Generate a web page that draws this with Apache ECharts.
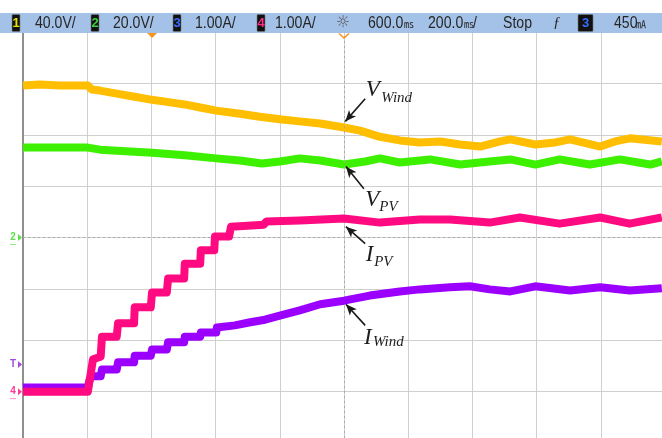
<!DOCTYPE html>
<html><head><meta charset="utf-8">
<script src="https://cdn.jsdelivr.net/npm/echarts@6/dist/echarts.min.js"></script>
<style>html,body{margin:0;padding:0;background:#fff}#c{width:662px;height:438px}</style>
</head><body><div id="c"></div>
<script>
// ---- data (x: time in divisions of 200 ms, y: screen divisions from centre) ----
const vWind = [[0,2.96],[0.26,2.98],[0.58,2.96],[1.01,2.96],[1.07,2.88],[1.20,2.86],[1.46,2.80],[1.74,2.74],[2.01,2.68],[2.29,2.63],[2.52,2.59],[2.76,2.53],[3.01,2.47],[3.38,2.41],[3.69,2.35],[4.00,2.30],[4.31,2.26],[4.63,2.22],[5.00,2.14],[5.25,2.08],[5.56,1.96],[5.87,1.89],[6.18,1.85],[6.50,1.87],[6.81,1.81],[7.12,1.77],[7.43,1.87],[7.59,1.91],[7.98,1.81],[8.29,1.85],[8.52,1.91],[8.99,1.77],[9.22,1.87],[9.45,1.93],[9.95,1.87]];
const vPV = [[0,1.75],[1.01,1.75],[1.20,1.71],[1.74,1.67],[2.01,1.65],[2.52,1.60],[3.01,1.54],[3.38,1.50],[3.72,1.44],[4.00,1.48],[4.31,1.54],[4.63,1.50],[5.00,1.42],[5.33,1.48],[5.56,1.54],[5.87,1.46],[6.34,1.52],[6.81,1.42],[7.27,1.48],[7.59,1.52],[7.98,1.42],[8.36,1.52],[8.83,1.42],[9.30,1.52],[9.77,1.42],[9.95,1.48]];
const iWind = [[0,-2.92],[1.01,-2.92],[1.04,-2.76],[1.07,-2.70],[1.21,-2.70],[1.23,-2.57],[1.46,-2.57],[1.48,-2.43],[1.73,-2.43],[1.74,-2.30],[1.99,-2.30],[2.01,-2.18],[2.24,-2.18],[2.26,-2.04],[2.51,-2.04],[2.52,-1.93],[2.76,-1.93],[2.77,-1.85],[3.01,-1.85],[3.02,-1.75],[3.30,-1.71],[3.54,-1.65],[3.77,-1.60],[4.00,-1.52],[4.31,-1.42],[4.63,-1.30],[5.00,-1.23],[5.40,-1.13],[5.87,-1.05],[6.18,-1.01],[6.65,-0.97],[6.96,-0.95],[7.27,-1.01],[7.59,-1.05],[7.98,-0.95],[8.52,-1.03],[8.99,-0.97],[9.45,-1.03],[9.95,-0.99]];
const iPV = [[0,-3.00],[1.01,-3.00],[1.04,-3.02],[1.09,-2.37],[1.21,-2.32],[1.23,-1.93],[1.46,-1.93],[1.48,-1.67],[1.73,-1.67],[1.74,-1.36],[1.99,-1.36],[2.01,-1.07],[2.24,-1.07],[2.26,-0.80],[2.51,-0.80],[2.52,-0.51],[2.76,-0.51],[2.77,-0.25],[2.98,-0.25],[2.99,0.02],[3.21,0.02],[3.24,0.21],[3.75,0.25],[3.79,0.31],[4.31,0.33],[5.00,0.37],[5.56,0.29],[6.18,0.35],[6.65,0.35],[7.27,0.29],[7.74,0.39],[8.36,0.27],[8.99,0.39],[9.45,0.27],[9.95,0.39]];

const traceNames = ['V_Wind','V_PV','I_Wind','I_PV'];
const traceColors = ['#ffbe00','#3cf000','#9b00ff','#ff0a80'];
const traceData = [vWind, vPV, iWind, iPV];

// annotation arrows: [from, to] in data coords
const arrows = [[[5.33,2.70],[5.02,2.26]],[[5.31,0.95],[5.03,1.38]],[[5.33,-0.12],[5.03,0.21]],[[5.33,-1.71],[5.03,-1.30]]];
// annotation labels: main letter, subscript, anchors
const labelMain = ['V','V','I','I'];
const labelSub = ['Wind','PV','PV','Wind'];
const labelMainPos = [[5.34,2.88],[5.33,0.74],[5.34,-0.33],[5.31,-1.95]];
const labelSubPos = [[5.58,2.72],[5.55,0.60],[5.47,-0.47],[5.45,-2.04]];

// header texts
const chScales = ['40.0V/','20.0V/','1.00A/','1.00A/'];
const chColors = ['#e6e600','#3ad13a','#3b6dff','#ff2a8a'];
const timeDelay = '600.0', timeScale = '200.0', runState = 'Stop', trigLevel = '450';
const trigPosX = 2.01, ch2Ground = 0, ch4Ground = -3.0, trigLevelY = -2.47;

const chart = echarts.init(document.getElementById('c'));
const axisCommon = {type:'value', axisLabel:{show:false}, axisTick:{show:false}, splitLine:{lineStyle:{color:'#cfcfcf', width:1}}};
const series = traceData.map((d,i)=>({
  name: traceNames[i], type:'line', data:d, symbol:'none', showSymbol:false, silent:true,
  lineStyle:{color:traceColors[i], width:8, join:'round', cap:'butt'}, z: 3+i
}));
series.push({type:'line', data:[], z:1, silent:true,
  markLine:{silent:true, symbol:'none', label:{show:false}, animation:false,
    lineStyle:{color:'#a8a8a8', type:[2,3], width:1}, data:[{xAxis:5},{yAxis:0}]}});
series.push({type:'line', data:[], z:10, silent:true,
  markLine:{silent:true, symbol:['none','arrow'], symbolSize:[7,11], label:{show:false}, animation:false,
    lineStyle:{color:'#1a1a1a', type:'solid', width:1.6},
    data: arrows.map(a=>[{coord:a[0]},{coord:a[1]}])}});

chart.setOption({
  animation:false, backgroundColor:'#ffffff',
  grid:{left:23, top:32, width:642, height:411, outerBoundsMode:'none', containLabel:false},
  xAxis: Object.assign({}, axisCommon, {min:0, max:10, interval:1, axisLine:{show:false}}),
  yAxis: Object.assign({}, axisCommon, {min:-4, max:4, interval:1, axisLine:{show:true, lineStyle:{color:'#8f8f8f', width:2}}}),
  series
});

const P = (x,y)=>chart.convertToPixel({gridIndex:0},[x,y]);
const g = [];
// annotation labels
const serif = '"Liberation Serif","DejaVu Serif",serif';
labelMain.forEach((t,i)=>{
  const p = P(labelMainPos[i][0], labelMainPos[i][1]);
  g.push({type:'text', x:p[0], y:p[1], z:20, style:{text:t, font:'italic 23px '+serif, fill:'#1e1e1e', align:'left', verticalAlign:'middle', textAlign:'left', textVerticalAlign:'middle'}});
  const q = P(labelSubPos[i][0], labelSubPos[i][1]);
  g.push({type:'text', x:q[0], y:q[1], z:20, style:{text:labelSub[i], font:'italic 15px '+serif, fill:'#1e1e1e', align:'left', verticalAlign:'middle', textAlign:'left', textVerticalAlign:'middle'}});
});
// header bar
g.push({type:'rect', z:30, shape:{x:0, y:13, width:662, height:20}, style:{fill:'#a4c2e8'}});
const sans = '"Liberation Sans",Arial,sans-serif';
const hText = (x, t, extra)=>g.push(Object.assign({type:'text', x:x, y:23.5, scaleX:0.88, z:31,
  style:{text:t, font:'16px '+sans, fill:'#262626', align:'left', verticalAlign:'middle', textAlign:'left', textVerticalAlign:'middle'}}, extra||{}));
const box = (x,w,num,col)=>{
  g.push({type:'rect', z:31, shape:{x:x, y:14.5, width:w, height:17, r:1}, style:{fill:'#111111', stroke:'#777', lineWidth:0.6}});
  g.push({type:'text', x:x+w/2, y:23.5, z:32, style:{text:num, font:'bold 13px '+sans, fill:col, align:'center', verticalAlign:'middle', textAlign:'center', textVerticalAlign:'middle'}});
};
const boxX = [12, 91, 173, 257], txtX = [35, 113, 195, 275];
chScales.forEach((s,i)=>{ box(boxX[i], 8, String(i+1), chColors[i]); hText(txtX[i], s); });
g.push({type:'text', x:343, y:23, z:31, style:{text:'☼', font:'16px "DejaVu Sans"', fill:'#555', align:'center', verticalAlign:'middle', textAlign:'center', textVerticalAlign:'middle'}});
hText(368, timeDelay);
g.push({type:'text', x:404, y:24, z:31, style:{text:'㎳', font:'10px "Noto Sans CJK SC"', fill:'#262626', verticalAlign:'middle', textVerticalAlign:'middle'}});
hText(428, timeScale);
g.push({type:'text', x:464, y:24, z:31, style:{text:'㎳', font:'10px "Noto Sans CJK SC"', fill:'#262626', verticalAlign:'middle', textVerticalAlign:'middle'}});
hText(473, '/');
hText(503, runState);
g.push({type:'text', x:553, y:23.5, z:31, style:{text:'ƒ', font:'italic 15px '+serif, fill:'#262626', verticalAlign:'middle', textVerticalAlign:'middle'}});
box(578, 15, '3', '#3b6dff');
hText(614, trigLevel);
g.push({type:'text', x:636, y:24, z:31, style:{text:'㎃', font:'10px "Noto Sans CJK SC"', fill:'#262626', verticalAlign:'middle', textVerticalAlign:'middle'}});
// top markers
const tp = P(trigPosX, 4)[0];
g.push({type:'polygon', z:33, shape:{points:[[tp-5,33],[tp+5,33],[tp,38]]}, style:{fill:'#f7941d'}});
const cp = P(5, 4)[0];
g.push({type:'polyline', z:33, shape:{points:[[cp-5,33.5],[cp,38],[cp+5,33.5]]}, style:{stroke:'#f7941d', lineWidth:1.5, fill:null}});
// left markers
const lm = (y, t, col)=>{
  g.push({type:'text', x:13, y:y, z:20, style:{text:t, font:'bold 10px '+sans, fill:col, align:'center', verticalAlign:'middle', textAlign:'center', textVerticalAlign:'middle'}});
  g.push({type:'polygon', z:20, shape:{points:[[18,y-3.5],[18,y+3.5],[22,y]]}, style:{fill:col}});
};
lm(P(0,ch2Ground)[1], '2', '#5ee04a');
lm(P(0,trigLevelY)[1], 'T', '#a04de0');
lm(P(0,ch4Ground)[1], '4', '#ff3a9a');
g.push({type:'line', z:20, shape:{x1:10,y1:P(0,ch2Ground)[1]+7,x2:16,y2:P(0,ch2Ground)[1]+7}, style:{stroke:'#8ee880', lineWidth:1}});
g.push({type:'line', z:20, shape:{x1:10,y1:P(0,ch4Ground)[1]+7,x2:16,y2:P(0,ch4Ground)[1]+7}, style:{stroke:'#ff8cc0', lineWidth:1}});
chart.setOption({graphic:{elements:g}});
</script></body></html>
